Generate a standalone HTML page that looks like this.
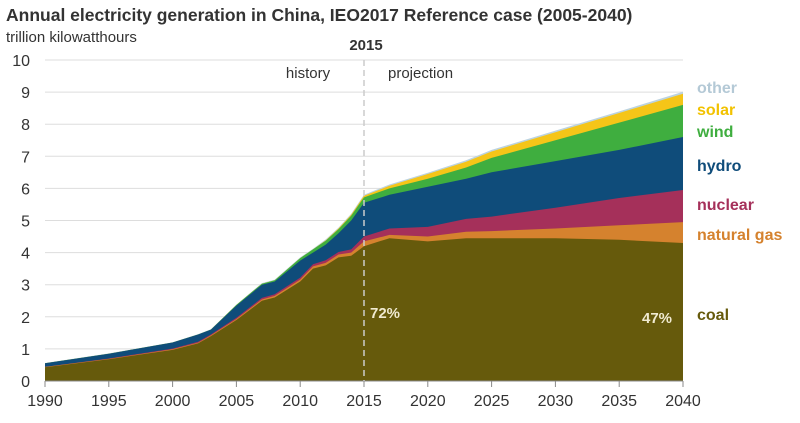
<!DOCTYPE html>
<html><head><meta charset="utf-8"><style>
body{margin:0;background:#fff;width:800px;height:418px;overflow:hidden;font-family:"Liberation Sans",sans-serif}
</style></head><body>
<svg id="s" width="800" height="418" xmlns="http://www.w3.org/2000/svg" font-family="Liberation Sans, sans-serif">
<text x="6" y="21" font-size="17.5" font-weight="bold" fill="#333">Annual electricity generation in China, IEO2017 Reference case (2005-2040)</text>
<text x="6" y="42" font-size="15" fill="#333">trillion kilowatthours</text>
<g id="grid" stroke="#ddd" stroke-width="1"></g>
<g id="areas"></g>
<g id="ylab" font-size="16" fill="#333" text-anchor="end"></g>
<g id="xlab" font-size="16" fill="#333" text-anchor="middle"></g>
<line x1="45" y1="381" x2="683" y2="381" stroke="#888" stroke-width="1"/>
<line x1="364" y1="60" x2="364" y2="381" stroke="#ccc" stroke-width="1.5" stroke-dasharray="6,4"/>
<text x="366" y="50" font-size="15" font-weight="bold" fill="#333" text-anchor="middle">2015</text>
<text x="308" y="78" font-size="15" fill="#333" text-anchor="middle">history</text>
<text x="388" y="78" font-size="15" fill="#333">projection</text>
<text x="370" y="318" font-size="15" font-weight="bold" fill="#f0ead0">72%</text>
<text x="642" y="323" font-size="15" font-weight="bold" fill="#f0ead0">47%</text>
<g font-size="16" font-weight="bold">
<text x="697" y="93" fill="#b4c9d6">other</text>
<text x="697" y="115" fill="#f2c200">solar</text>
<text x="697" y="137" fill="#3fae3f">wind</text>
<text x="697" y="171" fill="#0f4c7a">hydro</text>
<text x="697" y="210" fill="#a5305a">nuclear</text>
<text x="697" y="240" fill="#d5822e">natural gas</text>
<text x="697" y="320" fill="#665a0c">coal</text>
</g>
</svg>
<script>
const X=y=>45+(y-1990)*638/50, Y=v=>381-v*32.1;
const ns="http://www.w3.org/2000/svg";
function add(g,tag,attrs,txt){const e=document.createElementNS(ns,tag);for(const k in attrs)e.setAttribute(k,attrs[k]);if(txt!=null)e.textContent=txt;document.getElementById(g).appendChild(e);}
for(let i=1;i<=10;i++)add("grid","line",{x1:45,x2:683,y1:Y(i),y2:Y(i)});
for(let i=0;i<=10;i++)add("ylab","text",{x:30,y:Y(i)+6},i);
for(let y=1990;y<=2040;y+=5){add("xlab","text",{x:X(y),y:406},y);add("grid","line",{x1:X(y),x2:X(y),y1:381,y2:387,stroke:"#888"});}
const yrs=[1990,1995,2000,2002,2003,2005,2007,2008,2010,2011,2012,2013,2014,2015,2017,2020,2023,2025,2030,2035,2040];
const coal=[.43,.68,.97,1.17,1.4,1.9,2.5,2.6,3.1,3.5,3.6,3.85,3.9,4.2,4.45,4.35,4.45,4.45,4.45,4.4,4.3];
const gas=[.01,.01,.02,.02,.02,.03,.04,.05,.06,.07,.08,.09,.1,.15,.1,.15,.2,.22,.3,.45,.65];
const nuc=[0,.01,.02,.03,.03,.04,.05,.05,.06,.07,.08,.08,.1,.15,.2,.3,.4,.45,.65,.85,1.0];
const hydroTop=[.55,.85,1.2,1.45,1.6,2.35,3.0,3.1,3.75,4.0,4.25,4.6,5.0,5.55,5.8,6.05,6.3,6.5,6.85,7.2,7.6];
const wind=[0,0,0,0,0,.02,.03,.04,.08,.1,.12,.13,.15,.17,.2,.25,.35,.45,.65,.85,1.0];
const solar=[0,0,0,0,0,0,0,0,0,0,.01,.02,.03,.05,.08,.15,.18,.2,.25,.3,.35];
const other=[.01,.01,.01,.01,.01,.01,.02,.02,.02,.02,.03,.03,.03,.03,.04,.04,.05,.05,.05,.05,.06];
const L=[],add2=(a,b)=>a.map((v,i)=>v+b[i]);
const c1=coal,c2=add2(c1,gas),c3=add2(c2,nuc),c4=hydroTop,c5=add2(c4,wind),c6=add2(c5,solar),c7=add2(c6,other);
const series=[["#bcd3e0",c7],["#f5c518",c6],["#3fae3f",c5],["#0f4c7a",c4],["#a5305a",c3],["#d5822e",c2],["#665a0c",c1]];
for(const [c,v] of series){
 let d="M"+X(1990)+","+Y(0);
 yrs.forEach((yr,i)=>d+=" L"+X(yr).toFixed(1)+","+Y(v[i]).toFixed(1));
 d+=" L"+X(2040)+","+Y(0)+"Z";
 add("areas","path",{d:d,fill:c});
}
</script>
</body></html>
